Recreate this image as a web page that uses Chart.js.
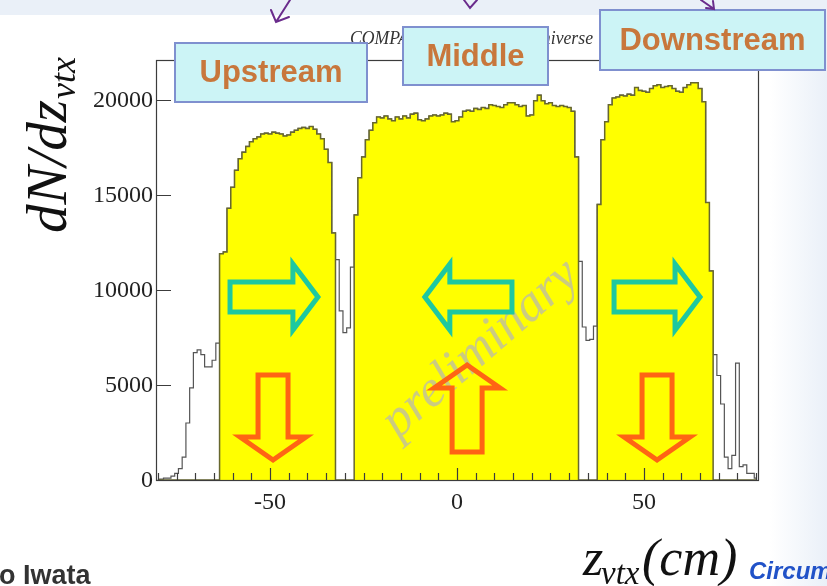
<!DOCTYPE html>
<html>
<head>
<meta charset="utf-8">
<script src="https://cdn.jsdelivr.net/npm/chart.js@4.4.1/dist/chart.umd.min.js"></script>
<style>
  html, body { margin: 0; padding: 0; background: #fff; }
  canvas { display: block; }
</style>
</head>
<body>
<canvas id="chart" width="827" height="586"></canvas>
<script>
// Reconstructed-vertex z distribution, 1 cm bins, entries per bin.
const FIRST_BIN_CENTRE = -80;   // cm, centre of the first bin
const BIN_WIDTH = 1;            // cm

const leftTail   = [0, 50, 100, 100, 200, 350, 600, 1200, 3000, 4850, 6700, 6850, 6600, 5950, 5950, 6300, 7200];
const upstream   = [11900, 12000, 14300, 15400, 16300, 16900, 17250, 17550, 17800, 17950, 18050, 18200, 18250, 18200, 18300, 18250,
                    18200, 18100, 18150, 18300, 18400, 18500, 18550, 18500, 18600, 18450, 18200, 17950, 17400, 16700, 13000];
const gapUpMid   = [11600, 8900, 7750, 8000, 11200];
const middle     = [13950, 15900, 17000, 17900, 18400, 18800, 19100, 19050, 19150, 19000, 18900, 19100, 19000, 19150, 19050,
                    19250, 19300, 18950, 18900, 19000, 19150, 19200, 19150, 19200, 19300, 19250, 18850, 18900, 19100, 19400,
                    19450, 19400, 19550, 19500, 19600, 19550, 19750, 19700, 19650, 19600, 19750, 19850, 19850, 19750, 19650,
                    19700, 19150, 19200, 19950, 20250, 19950, 19800, 19850, 19700, 19650, 19700, 19650, 19600, 19400, 17000];
const gapMidDown = [11500, 8050, 7350, 7400, 8100];
const downstream = [14500, 17900, 18850, 19750, 20100, 20150, 20250, 20200, 20300, 20250, 20650, 20500, 20450, 20400, 20600, 20750,
                    20800, 20650, 20700, 20750, 20600, 20450, 20400, 20650, 20800, 20900, 20900, 20600, 19900, 14600, 11000];
const rightTail  = [6600, 5500, 4000, 1200, 600, 1300, 6150, 700, 800, 350, 350, 100];

const xTickValues = [-50, 0, 50];
const yTickValues = [0, 5000, 10000, 15000, 20000];
const regionLabels = ['Upstream', 'Middle', 'Downstream'];

// Sections in z order; the target regions are the yellow ones.
const sections = [
  { counts: leftTail,   target: false },
  { counts: upstream,   target: true  },
  { counts: gapUpMid,   target: false },
  { counts: middle,     target: true  },
  { counts: gapMidDown, target: false },
  { counts: downstream, target: true  },
  { counts: rightTail,  target: false }
];

const allPoints = [];
const targetPoints = [];
let bin = 0;
sections.forEach(sec => {
  sec.counts.forEach(n => {
    const z = FIRST_BIN_CENTRE + bin * BIN_WIDTH;
    allPoints.push({ x: z, y: n });
    targetPoints.push({ x: z, y: sec.target ? n : 0 });
    bin++;
  });
});

// Annotation anchors in data units (z in cm, entries)
const flowArrows = [   // beam-direction arrows
  { from: [-60.7, 9630], to: [-37.2, 9630] },
  { from: [14.7, 9630],  to: [-8.6, 9630] },
  { from: [42.0, 9630],  to: [65.0, 9630] }
];
const fieldArrows = [  // vertical arrows
  { from: [-49.2, 5525], to: [-49.2, 1050] },
  { from: [2.7, 1470],   to: [2.7, 6050] },
  { from: [53.5, 5525],  to: [53.5, 1050] }
];
const watermarkAt = [6.4, 6890];

const SERIF = '"Liberation Serif", "DejaVu Serif", serif';
const SANS = '"Liberation Sans", Arial, sans-serif';

function hollowArrow(ctx, x0, y0, x1, y1, shaftW, headW, headL, color, lw) {
  const dx = x1 - x0, dy = y1 - y0;
  const L = Math.hypot(dx, dy);
  const ux = dx / L, uy = dy / L, vx = -uy, vy = ux;
  const pts = [
    [0, -shaftW / 2], [L - headL, -shaftW / 2], [L - headL, -headW / 2], [L, 0],
    [L - headL, headW / 2], [L - headL, shaftW / 2], [0, shaftW / 2]
  ];
  ctx.save();
  ctx.beginPath();
  pts.forEach((p, i) => {
    const px = x0 + ux * p[0] + vx * p[1];
    const py = y0 + uy * p[0] + vy * p[1];
    if (i === 0) ctx.moveTo(px, py); else ctx.lineTo(px, py);
  });
  ctx.closePath();
  ctx.strokeStyle = color;
  ctx.lineWidth = lw;
  ctx.lineJoin = 'miter';
  ctx.stroke();
  ctx.restore();
}

const backgroundPlugin = {
  id: 'pageBackground',
  beforeDraw(chart) {
    const ctx = chart.ctx;
    ctx.save();
    ctx.fillStyle = '#ffffff';
    ctx.fillRect(0, 0, chart.width, chart.height);
    ctx.fillStyle = '#eaf0f8';
    ctx.fillRect(0, 0, chart.width, 15);
    const g = ctx.createLinearGradient(770, 0, 827, 0);
    g.addColorStop(0, 'rgba(234,240,248,0)');
    g.addColorStop(1, 'rgba(234,240,248,1)');
    ctx.fillStyle = g;
    ctx.fillRect(770, 15, 57, chart.height - 15);
    ctx.restore();
  }
};

// Frame, inward ticks and y tick labels, drawn over the histograms
const framePlugin = {
  id: 'frameTicks',
  afterDatasetsDraw(chart) {
    const { ctx, chartArea: a, scales: { x, y } } = chart;
    ctx.save();
    ctx.strokeStyle = '#3c3c3c';
    ctx.lineWidth = 1.2;
    ctx.strokeRect(a.left + 0.5, a.top + 0.5, a.right - a.left, a.bottom - a.top);
    ctx.beginPath();
    for (let z = -80; z <= 80; z += 5) {
      const px = Math.round(x.getPixelForValue(z)) + 0.5;
      const len = (z % 50 === 0) ? 12 : 7;
      ctx.moveTo(px, a.bottom);
      ctx.lineTo(px, a.bottom - len);
    }
    yTickValues.forEach(v => {
      const py = Math.round(y.getPixelForValue(v)) + 0.5;
      ctx.moveTo(a.left, py);
      ctx.lineTo(a.left + 15, py);
    });
    ctx.stroke();

    ctx.fillStyle = '#222';
    ctx.font = '24px ' + SERIF;
    ctx.textAlign = 'right';
    ctx.textBaseline = 'middle';
    yTickValues.forEach(v => {
      ctx.fillText(String(v), a.left - 3, y.getPixelForValue(v) + 1);
    });
    ctx.restore();
  }
};

const overlayPlugin = {
  id: 'annotations',
  afterDraw(chart) {
    const { ctx, scales: { x, y } } = chart;
    const P = (d) => [x.getPixelForValue(d[0]), y.getPixelForValue(d[1])];

    // watermark
    ctx.save();
    const w = P(watermarkAt);
    ctx.translate(w[0], w[1]);
    ctx.rotate(-41 * Math.PI / 180);
    ctx.font = 'italic 52px ' + SERIF;
    ctx.textAlign = 'center';
    ctx.textBaseline = 'middle';
    ctx.fillStyle = 'rgba(160,160,235,0.55)';
    ctx.fillText('preliminary', 0, 0);
    ctx.restore();

    flowArrows.forEach(a => {
      const p0 = P(a.from), p1 = P(a.to);
      hollowArrow(ctx, p0[0], p0[1], p1[0], p1[1], 30, 66, 25, '#1ec8a0', 5);
    });
    fieldArrows.forEach(a => {
      const p0 = P(a.from), p1 = P(a.to);
      hollowArrow(ctx, p0[0], p0[1], p1[0], p1[1], 30, 66, 23, '#ff6414', 5);
    });

    // plot title, mostly covered by the region boxes
    ctx.save();
    ctx.font = 'italic 18px ' + SERIF;
    ctx.fillStyle = '#333';
    const title = 'COMPASS target vertex, Universe';
    const tw = ctx.measureText(title).width;
    ctx.translate(350, 44);
    ctx.scale(243 / tw, 1);
    ctx.fillText(title, 0, 0);
    ctx.restore();

    // region boxes
    const boxes = [
      { x: 175, y: 43, w: 192, h: 59 },
      { x: 403, y: 27, w: 145, h: 58 },
      { x: 600, y: 10, w: 225, h: 60 }
    ];
    boxes.forEach((b, i) => {
      ctx.save();
      ctx.fillStyle = '#ccf4f6';
      ctx.fillRect(b.x, b.y, b.w, b.h);
      ctx.strokeStyle = '#7f90cf';
      ctx.lineWidth = 2;
      ctx.strokeRect(b.x, b.y, b.w, b.h);
      ctx.font = 'bold 31px ' + SANS;
      ctx.fillStyle = '#c8773c';
      ctx.textAlign = 'center';
      ctx.textBaseline = 'middle';
      ctx.fillText(regionLabels[i], b.x + b.w / 2, b.y + b.h / 2 + 1);
      ctx.restore();
    });

    // little hand-drawn pointers at the top
    ctx.save();
    ctx.strokeStyle = '#6a2c8c';
    ctx.lineWidth = 2;
    ctx.lineCap = 'round';
    ctx.beginPath();
    ctx.moveTo(290, 0); ctx.lineTo(276, 22);
    ctx.moveTo(271, 10); ctx.lineTo(276, 22); ctx.lineTo(289, 17);
    ctx.moveTo(464, 0); ctx.lineTo(470, 8); ctx.lineTo(477, 0);
    ctx.moveTo(701, 0); ctx.lineTo(714, 9);
    ctx.moveTo(706, 8); ctx.lineTo(714, 9); ctx.lineTo(713, 1);
    ctx.stroke();
    ctx.restore();

    // axis titles
    ctx.save();
    ctx.fillStyle = '#111';
    ctx.translate(66, 233);
    ctx.rotate(-Math.PI / 2);
    ctx.font = 'italic 57px ' + SERIF;
    ctx.fillText('dN/dz', 0, 0);
    const dw = ctx.measureText('dN/dz').width;
    ctx.font = 'italic 36px ' + SERIF;
    ctx.fillText('vtx', dw + 1, 9);
    ctx.restore();

    ctx.save();
    ctx.fillStyle = '#111';
    ctx.font = 'italic 52px ' + SERIF;
    ctx.fillText('z', 583, 575);
    ctx.font = 'italic 33px ' + SERIF;
    ctx.fillText('vtx', 601, 584);
    ctx.font = 'italic 52px ' + SERIF;
    ctx.fillText('(cm)', 642, 575);
    ctx.restore();

    ctx.save();
    ctx.font = 'bold italic 24px ' + SANS;
    ctx.fillStyle = '#2152c8';
    ctx.fillText('Circum', 749, 579);
    ctx.font = 'bold 27px ' + SANS;
    ctx.fillStyle = '#333';
    ctx.fillText('o Iwata', -1, 584);
    ctx.restore();
  }
};

new Chart(document.getElementById('chart').getContext('2d'), {
  type: 'line',
  data: {
    datasets: [
      {
        label: 'target regions',
        data: targetPoints,
        stepped: 'middle',
        borderColor: '#67672f',
        borderWidth: 1.5,
        backgroundColor: '#ffff00',
        fill: 'origin',
        pointRadius: 0,
        order: 0
      },
      {
        label: 'all vertices',
        data: allPoints,
        stepped: 'middle',
        borderColor: '#555555',
        borderWidth: 1.2,
        fill: false,
        pointRadius: 0,
        order: 1
      }
    ]
  },
  options: {
    responsive: false,
    animation: false,
    events: [],
    layout: { padding: { left: 0, right: 69, top: 60, bottom: 0 } },
    plugins: { legend: { display: false }, tooltip: { enabled: false }, title: { display: false } },
    scales: {
      x: {
        type: 'linear',
        min: -80.5,
        max: 80.5,
        afterFit(s) { s.height = 106; },
        grid: { display: false, drawTicks: false },
        border: { display: false },
        ticks: {
          includeBounds: false,
          stepSize: 50,
          autoSkip: false,
          maxRotation: 0,
          padding: 8,
          color: '#222',
          font: { family: SERIF, size: 24 },
          callback: v => xTickValues.includes(v) ? String(v) : ''
        }
      },
      y: {
        type: 'linear',
        min: 0,
        max: 22100,
        afterFit(s) { s.width = 156; },
        grid: { display: false, drawTicks: false },
        border: { display: false },
        ticks: { display: false, stepSize: 5000, includeBounds: false }
      }
    }
  },
  plugins: [backgroundPlugin, framePlugin, overlayPlugin]
});
</script>
</body>
</html>
